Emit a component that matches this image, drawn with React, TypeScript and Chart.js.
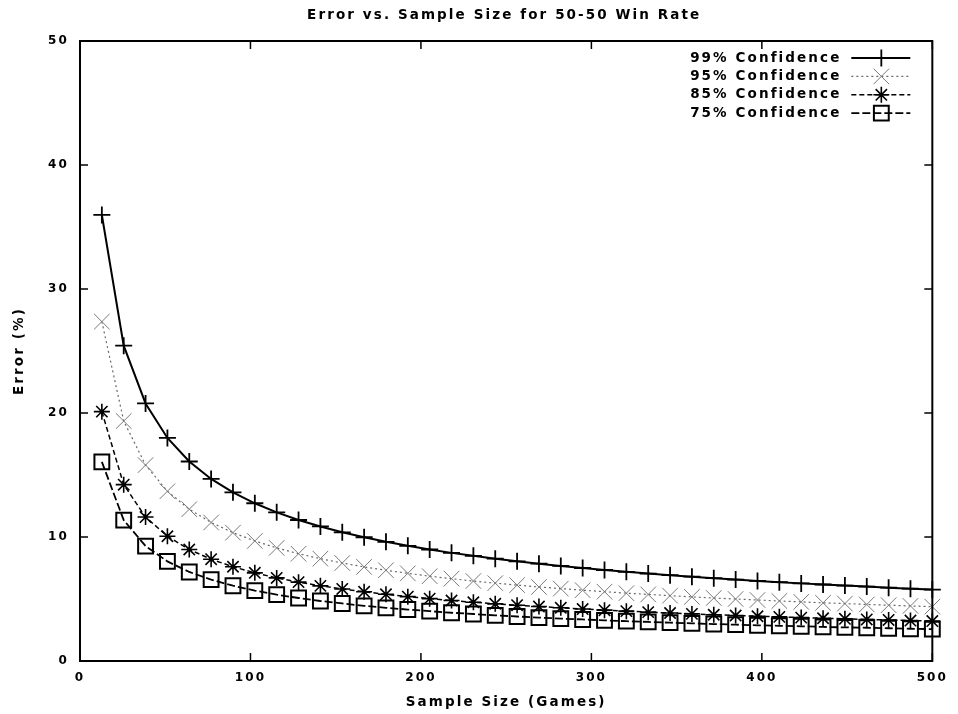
import React, { useEffect, useRef } from "react";
import { Chart, registerables } from "chart.js";
import { drawPoint } from "chart.js/helpers";

Chart.register(...registerables);

// ---- data ----
const sampleSizes = [
  12.82, 25.64, 38.46, 51.28, 64.1, 76.92, 89.74, 102.56, 115.38, 128.21,
  141.03, 153.85, 166.67, 179.49, 192.31, 205.13, 217.95, 230.77, 243.59, 256.41,
  269.23, 282.05, 294.87, 307.69, 320.51, 333.33, 346.15, 358.97, 371.79, 384.62,
  397.44, 410.26, 423.08, 435.9, 448.72, 461.54, 474.36, 487.18, 500,
];
const err99 = [
  35.97, 25.43, 20.77, 17.99, 16.09, 14.68, 13.6, 12.72, 11.99, 11.37,
  10.85, 10.38, 9.98, 9.61, 9.29, 8.99, 8.72, 8.48, 8.25, 8.04,
  7.85, 7.67, 7.5, 7.34, 7.19, 7.05, 6.92, 6.8, 6.68, 6.57,
  6.46, 6.36, 6.26, 6.17, 6.08, 6.0, 5.91, 5.83, 5.76,
];
const err95 = [
  27.37, 19.35, 15.8, 13.69, 12.24, 11.17, 10.35, 9.68, 9.12, 8.65,
  8.25, 7.9, 7.59, 7.32, 7.07, 6.84, 6.64, 6.45, 6.28, 6.12,
  5.97, 5.84, 5.71, 5.59, 5.47, 5.37, 5.27, 5.17, 5.08, 5.0,
  4.92, 4.84, 4.77, 4.69, 4.63, 4.56, 4.5, 4.44, 4.38,
];
const err85 = [
  20.11, 14.22, 11.61, 10.06, 8.99, 8.21, 7.6, 7.11, 6.7, 6.36,
  6.06, 5.81, 5.58, 5.38, 5.19, 5.03, 4.88, 4.74, 4.61, 4.5,
  4.39, 4.29, 4.19, 4.1, 4.02, 3.94, 3.87, 3.8, 3.73, 3.67,
  3.61, 3.56, 3.5, 3.45, 3.4, 3.35, 3.31, 3.26, 3.22,
];
const err75 = [
  16.06, 11.36, 9.27, 8.03, 7.18, 6.56, 6.07, 5.68, 5.35, 5.08,
  4.84, 4.64, 4.45, 4.29, 4.15, 4.02, 3.89, 3.79, 3.68, 3.59,
  3.5, 3.42, 3.35, 3.28, 3.21, 3.15, 3.09, 3.04, 2.98, 2.93,
  2.88, 2.84, 2.8, 2.75, 2.71, 2.68, 2.64, 2.6, 2.57,
];
const seriesLabels = ["99% Confidence", "95% Confidence", "85% Confidence", "75% Confidence"];
const xRange = [0, 500];
const xStep = 100;
const yRange = [0, 50];
const yStep = 10;
const titleText = "Error vs. Sample Size for 50-50 Win Rate";
const xTitleText = "Sample Size (Games)";
const yTitleText = "Error (%)";

// ---- styling ----
const FONT_FAMILY = "'DejaVu Sans', 'Liberation Sans', sans-serif";
const FONT_SIZE = 13.5;
const TICK_FONT_SIZE = 12;
const SPACING = 2.1;

const toPoints = (ys: number[]) => ys.map((y, i) => ({ x: sampleSizes[i], y }));

const gnuplotPlugin = {
  id: "gnuplotFrame",
  beforeUpdate(chart: any) {
    chart.ctx.letterSpacing = SPACING + "px";
  },
  beforeDraw(chart: any) {
    const ctx = chart.ctx;
    ctx.letterSpacing = SPACING + "px";
    ctx.save();
    ctx.fillStyle = "#fff";
    ctx.fillRect(0, 0, chart.width, chart.height);
    ctx.restore();
  },
  afterDraw(chart: any) {
    const { ctx, chartArea: a, scales } = chart;
    ctx.save();
    ctx.letterSpacing = SPACING + "px";
    ctx.setLineDash([]);
    ctx.strokeStyle = "#000";
    ctx.lineWidth = 2;
    ctx.strokeRect(a.left, a.top, a.right - a.left, a.bottom - a.top);

    const tl = 8;
    ctx.lineWidth = 1.5;
    const line = (x1: number, y1: number, x2: number, y2: number) => {
      ctx.beginPath();
      ctx.moveTo(x1, y1);
      ctx.lineTo(x2, y2);
      ctx.stroke();
    };
    scales.x.ticks.forEach((t: any) => {
      const px = scales.x.getPixelForValue(t.value);
      line(px, a.bottom, px, a.bottom - tl);
      line(px, a.top, px, a.top + tl);
    });
    scales.y.ticks.forEach((t: any) => {
      const py = scales.y.getPixelForValue(t.value);
      line(a.left, py, a.left + tl, py);
      line(a.right, py, a.right - tl, py);
    });

    // title
    ctx.font = `bold ${FONT_SIZE}px ${FONT_FAMILY}`;
    ctx.fillStyle = "#000";
    ctx.textAlign = "center";
    ctx.textBaseline = "middle";
    ctx.fillText(titleText, (a.left + a.right) / 2 + SPACING / 2 - 3, 15);

    // legend (inside, top right)
    const textRight = a.right - 93;
    const sx1 = a.right - 81;
    const sx2 = a.right - 22;
    const mx = a.right - 51;
    chart.data.datasets.forEach((ds: any, i: number) => {
      const y = a.top + 17 + i * 18.4;
      ctx.setLineDash([]);
      ctx.fillStyle = "#000";
      ctx.textAlign = "right";
      ctx.textBaseline = "middle";
      ctx.fillText(ds.label, textRight + SPACING, y);
      ctx.strokeStyle = ds.borderColor;
      ctx.lineWidth = ds.borderWidth;
      ctx.setLineDash(ds.borderDash || []);
      line(sx1, y, sx2, y);
      ctx.setLineDash([]);
      ctx.strokeStyle = ds.pointBorderColor;
      ctx.fillStyle = "rgba(0,0,0,0)";
      ctx.lineWidth = ds.pointBorderWidth;
      drawPoint(
        ctx,
        { pointStyle: ds.pointStyle, radius: ds.pointRadius, borderWidth: ds.pointBorderWidth, rotation: 0 },
        mx,
        y
      );
    });
    ctx.restore();
  },
};

export default function App() {
  const canvasRef = useRef<HTMLCanvasElement | null>(null);

  useEffect(() => {
    document.body.style.margin = "0";
    const canvas = canvasRef.current;
    if (!canvas) return;
    const font = { family: FONT_FAMILY, size: FONT_SIZE, weight: "bold" as const };
    const tickFont = { family: FONT_FAMILY, size: TICK_FONT_SIZE, weight: "bold" as const };
    const chart = new Chart(canvas, {
      type: "line",
      data: {
        datasets: [
          {
            label: seriesLabels[0],
            data: toPoints(err99),
            borderColor: "#000",
            borderWidth: 2,
            borderDash: [],
            pointStyle: "cross",
            pointRadius: 8.5,
            pointBorderWidth: 1.8,
            pointBorderColor: "#000",
            pointBackgroundColor: "rgba(0,0,0,0)",
            clip: false,
          },
          {
            label: seriesLabels[1],
            data: toPoints(err95),
            borderColor: "#6a6a6a",
            borderWidth: 1.2,
            borderDash: [2, 3],
            pointStyle: "crossRot",
            pointRadius: 11,
            pointBorderWidth: 1,
            pointBorderColor: "#7a7a7a",
            pointBackgroundColor: "rgba(0,0,0,0)",
            clip: false,
          },
          {
            label: seriesLabels[2],
            data: toPoints(err85),
            borderColor: "#000",
            borderWidth: 1.5,
            borderDash: [5, 3],
            pointStyle: "star",
            pointRadius: 8,
            pointBorderWidth: 1.6,
            pointBorderColor: "#000",
            pointBackgroundColor: "rgba(0,0,0,0)",
            clip: false,
          },
          {
            label: seriesLabels[3],
            data: toPoints(err75),
            borderColor: "#000",
            borderWidth: 1.8,
            borderDash: [8, 3],
            pointStyle: "rect",
            pointRadius: 10.5,
            pointBorderWidth: 2,
            pointBorderColor: "#000",
            pointBackgroundColor: "rgba(0,0,0,0)",
            clip: false,
          },
        ],
      },
      options: {
        responsive: false,
        animation: false,
        devicePixelRatio: 1,
        color: "#000",
        layout: { padding: { top: 41, right: 22, left: 0, bottom: 0 } },
        elements: { line: { tension: 0 } },
        plugins: {
          legend: { display: false },
          title: { display: false },
          tooltip: { enabled: false },
        },
        scales: {
          x: {
            type: "linear",
            min: xRange[0],
            max: xRange[1],
            grid: { display: false, drawTicks: false },
            border: { display: false },
            ticks: { stepSize: xStep, color: "#000", font: tickFont, padding: 10, maxRotation: 0 },
            title: { display: true, text: xTitleText, color: "#000", font, padding: { top: 0, bottom: 3 } },
            afterFit: (s: any) => {
              s.height = 53;
            },
          },
          y: {
            type: "linear",
            min: yRange[0],
            max: yRange[1],
            grid: { display: false, drawTicks: false },
            border: { display: false },
            ticks: { stepSize: yStep, color: "#000", font: tickFont, padding: 11, },
            title: { display: true, text: yTitleText, color: "#000", font, padding: { top: 11, bottom: 0 } },
            afterFit: (s: any) => {
              s.width = 80;
            },
          },
        },
      },
      plugins: [gnuplotPlugin],
    });
    return () => chart.destroy();
  }, []);

  return (
    <div style={{ width: 958, height: 714, background: "#fff" }}>
      <canvas ref={canvasRef} width={958} height={714} style={{ display: "block" }} />
    </div>
  );
}
